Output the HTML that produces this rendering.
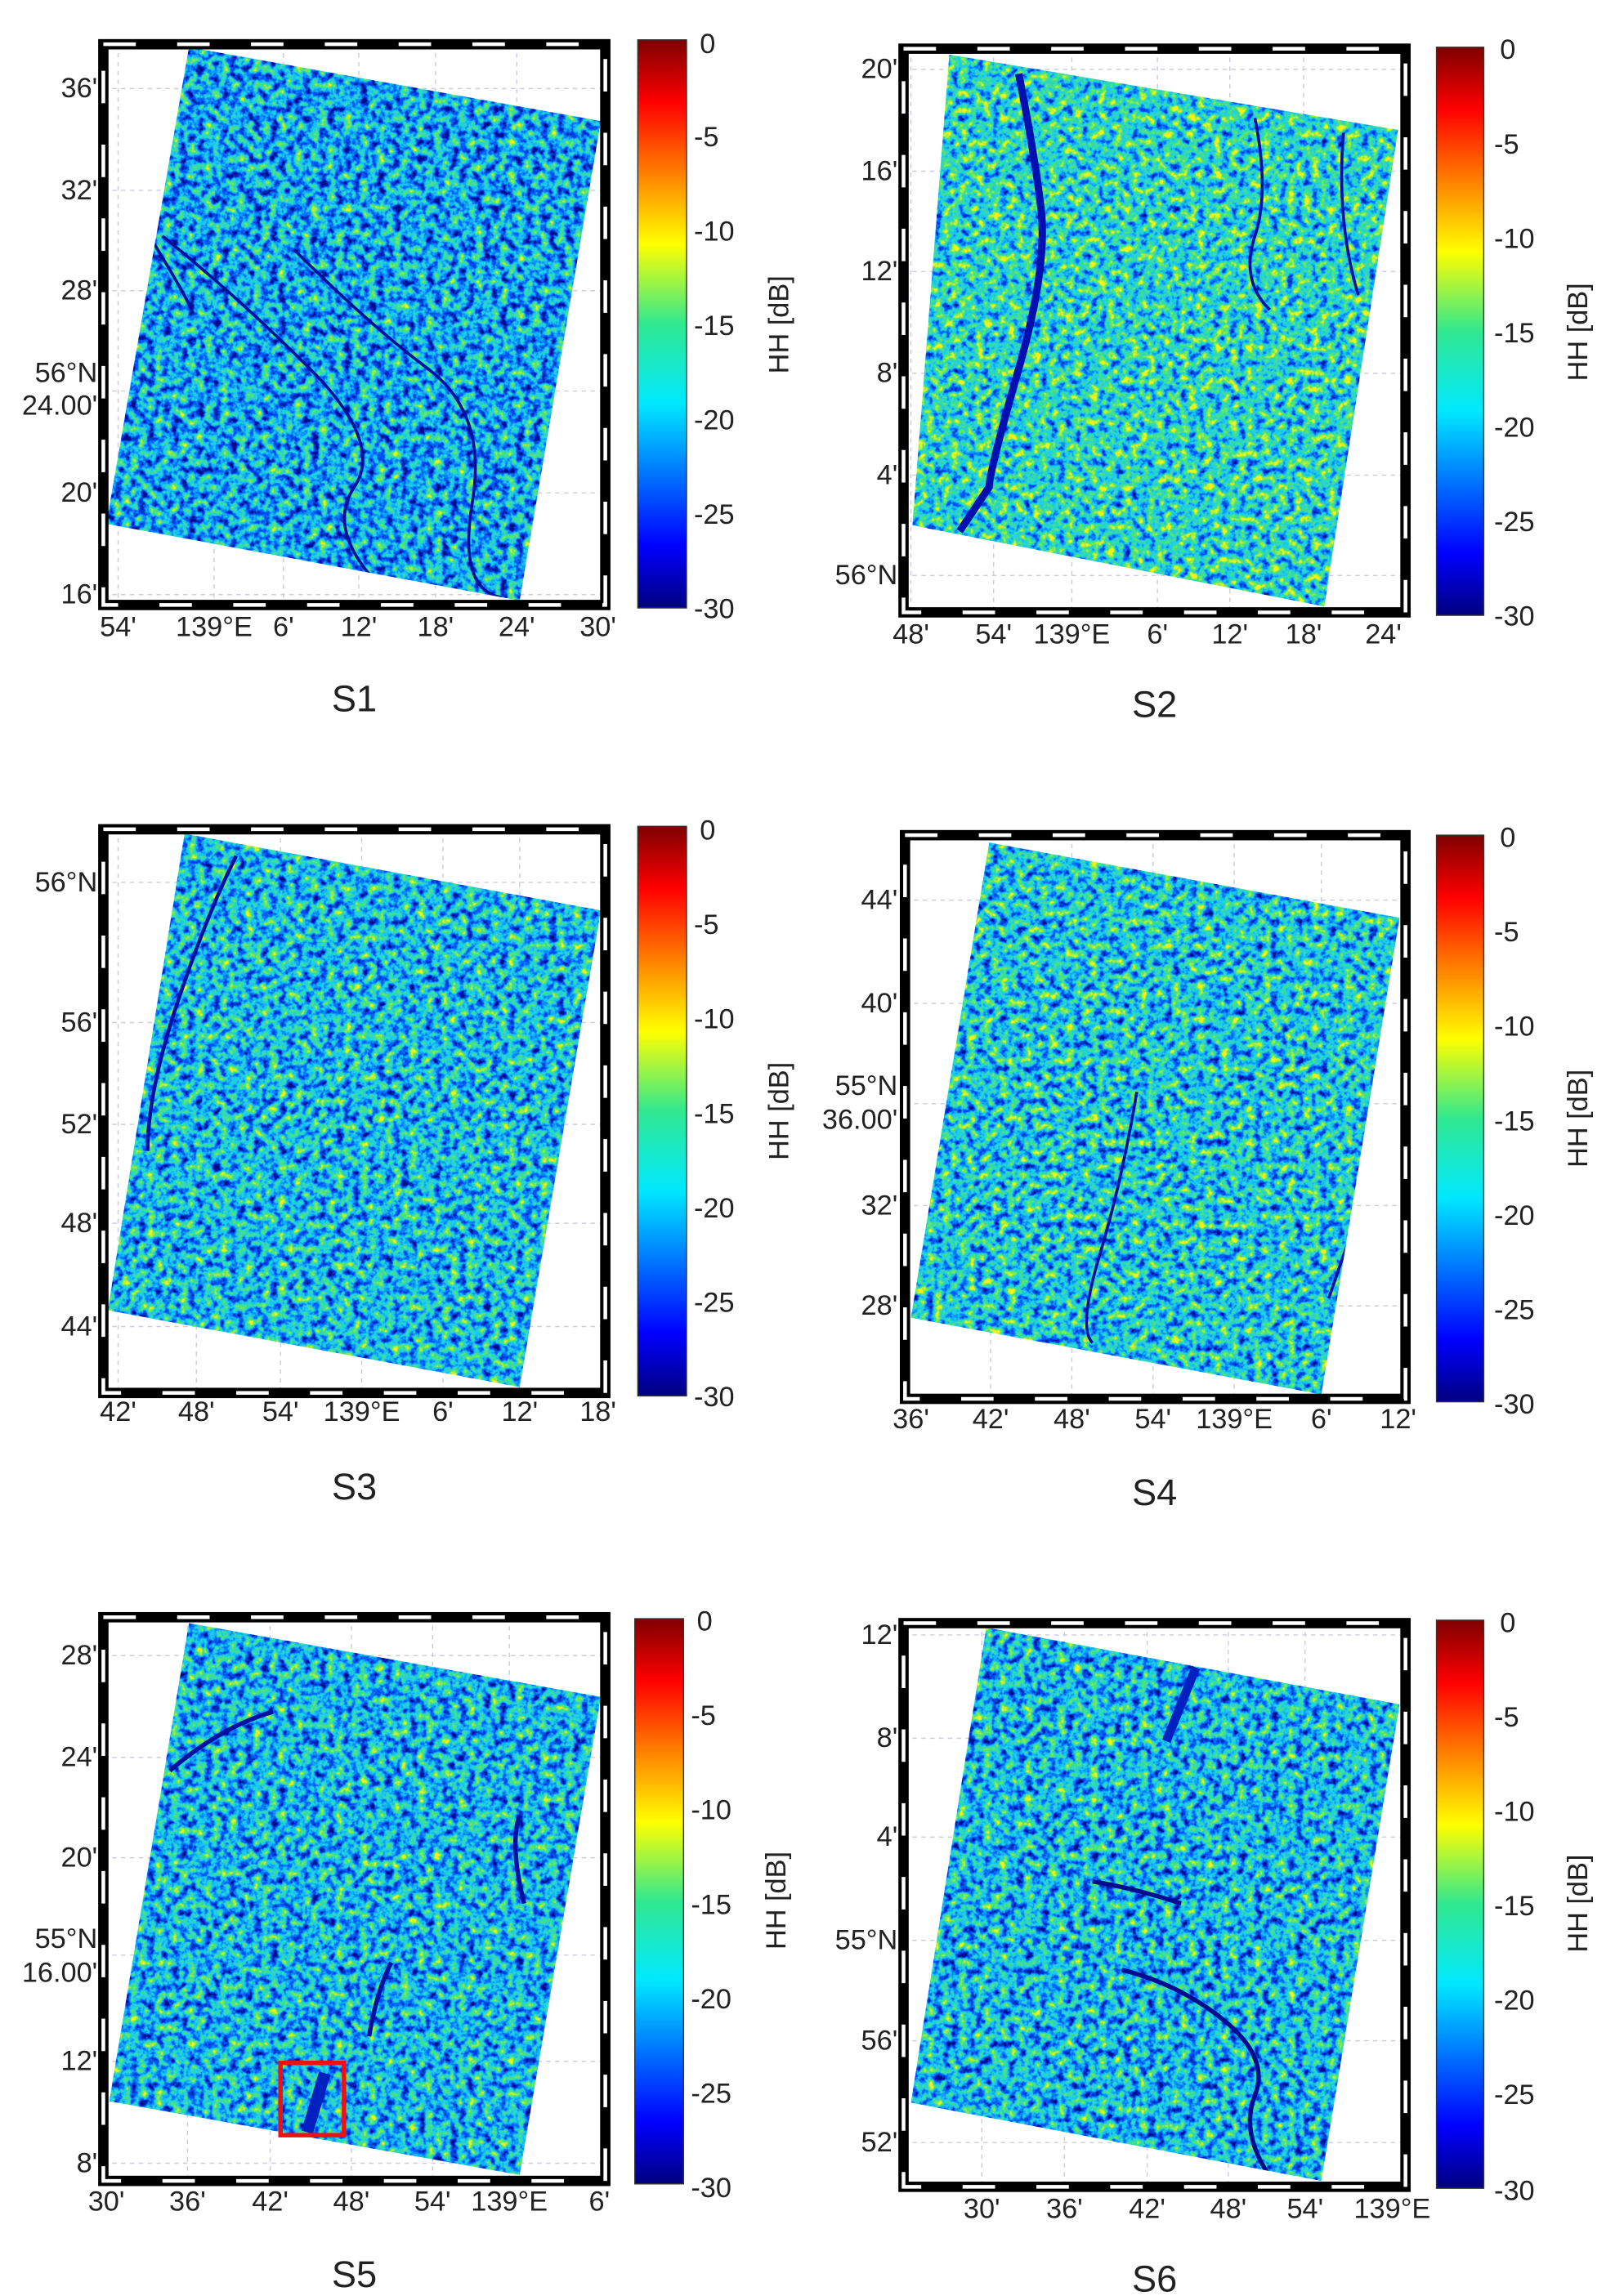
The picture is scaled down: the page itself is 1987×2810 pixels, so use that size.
<!DOCTYPE html>
<html><head><meta charset="utf-8"><style>
html,body{margin:0;padding:0;background:#fff;}
svg{display:block;}
text{font-family:"Liberation Sans",sans-serif;fill:#222;}
.t{font-size:19px;}
.ti{font-size:25px;}
</style></head><body>
<svg width="1987" height="2810" viewBox="0 0 1100 1556" preserveAspectRatio="none" xmlns="http://www.w3.org/2000/svg">
<defs>
<linearGradient id="jet" x1="0" y1="1" x2="0" y2="0">
<stop offset="0" stop-color="#00007f"/><stop offset="0.11" stop-color="#0000ff"/>
<stop offset="0.36" stop-color="#00e8ff"/><stop offset="0.5" stop-color="#30e890"/>
<stop offset="0.64" stop-color="#ffff00"/><stop offset="0.89" stop-color="#ff0000"/>
<stop offset="1" stop-color="#7f0000"/></linearGradient>
<filter id="f1" x="0" y="0" width="100%" height="100%" color-interpolation-filters="sRGB"><feTurbulence type="fractalNoise" baseFrequency="0.18" numOctaves="3" seed="3"/><feColorMatrix type="matrix" values="1.6 0 0 0 -0.38 1.6 0 0 0 -0.38 1.6 0 0 0 -0.38 0 0 0 0 1"/><feComponentTransfer><feFuncR type="table" tableValues="0 0 0.1 0.3 0.95"/><feFuncG type="table" tableValues="0.05 0.35 0.8 0.9 0.95"/><feFuncB type="table" tableValues="0.55 1 0.95 0.45 0.1"/><feFuncA type="table" tableValues="1 1"/></feComponentTransfer></filter>
<filter id="f2" x="0" y="0" width="100%" height="100%" color-interpolation-filters="sRGB"><feTurbulence type="fractalNoise" baseFrequency="0.18" numOctaves="3" seed="5"/><feColorMatrix type="matrix" values="1.6 0 0 0 -0.22 1.6 0 0 0 -0.22 1.6 0 0 0 -0.22 0 0 0 0 1"/><feComponentTransfer><feFuncR type="table" tableValues="0 0 0.1 0.3 0.95"/><feFuncG type="table" tableValues="0.05 0.35 0.8 0.9 0.95"/><feFuncB type="table" tableValues="0.55 1 0.95 0.45 0.1"/><feFuncA type="table" tableValues="1 1"/></feComponentTransfer></filter>
<filter id="f3" x="0" y="0" width="100%" height="100%" color-interpolation-filters="sRGB"><feTurbulence type="fractalNoise" baseFrequency="0.18" numOctaves="3" seed="8"/><feColorMatrix type="matrix" values="1.6 0 0 0 -0.32 1.6 0 0 0 -0.32 1.6 0 0 0 -0.32 0 0 0 0 1"/><feComponentTransfer><feFuncR type="table" tableValues="0 0 0.1 0.3 0.95"/><feFuncG type="table" tableValues="0.05 0.35 0.8 0.9 0.95"/><feFuncB type="table" tableValues="0.55 1 0.95 0.45 0.1"/><feFuncA type="table" tableValues="1 1"/></feComponentTransfer></filter>
<filter id="f4" x="0" y="0" width="100%" height="100%" color-interpolation-filters="sRGB"><feTurbulence type="fractalNoise" baseFrequency="0.18" numOctaves="3" seed="11"/><feColorMatrix type="matrix" values="1.6 0 0 0 -0.28 1.6 0 0 0 -0.28 1.6 0 0 0 -0.28 0 0 0 0 1"/><feComponentTransfer><feFuncR type="table" tableValues="0 0 0.1 0.3 0.95"/><feFuncG type="table" tableValues="0.05 0.35 0.8 0.9 0.95"/><feFuncB type="table" tableValues="0.55 1 0.95 0.45 0.1"/><feFuncA type="table" tableValues="1 1"/></feComponentTransfer></filter>
<filter id="f5" x="0" y="0" width="100%" height="100%" color-interpolation-filters="sRGB"><feTurbulence type="fractalNoise" baseFrequency="0.18" numOctaves="3" seed="13"/><feColorMatrix type="matrix" values="1.6 0 0 0 -0.34 1.6 0 0 0 -0.34 1.6 0 0 0 -0.34 0 0 0 0 1"/><feComponentTransfer><feFuncR type="table" tableValues="0 0 0.1 0.3 0.95"/><feFuncG type="table" tableValues="0.05 0.35 0.8 0.9 0.95"/><feFuncB type="table" tableValues="0.55 1 0.95 0.45 0.1"/><feFuncA type="table" tableValues="1 1"/></feComponentTransfer></filter>
<filter id="f6" x="0" y="0" width="100%" height="100%" color-interpolation-filters="sRGB"><feTurbulence type="fractalNoise" baseFrequency="0.18" numOctaves="3" seed="17"/><feColorMatrix type="matrix" values="1.6 0 0 0 -0.33 1.6 0 0 0 -0.33 1.6 0 0 0 -0.33 0 0 0 0 1"/><feComponentTransfer><feFuncR type="table" tableValues="0 0 0.1 0.3 0.95"/><feFuncG type="table" tableValues="0.05 0.35 0.8 0.9 0.95"/><feFuncB type="table" tableValues="0.55 1 0.95 0.45 0.1"/><feFuncA type="table" tableValues="1 1"/></feComponentTransfer></filter>
<clipPath id="c1"><polygon points="128,32 407,82 352,407 72,355"/></clipPath>
<clipPath id="c2"><polygon points="643,37 947,88 897,411 618,356"/></clipPath>
<clipPath id="c3"><polygon points="125,565 407,617 352,940 73,888"/></clipPath>
<clipPath id="c4"><polygon points="670,571 948,622 895,945 617,893"/></clipPath>
<clipPath id="c5"><polygon points="128,1100 407,1150 352,1474 74,1424"/></clipPath>
<clipPath id="c6"><polygon points="668,1103 948,1155 895,1478 617,1425"/></clipPath>
</defs>

<g stroke="#ccd" stroke-width="0.8" stroke-dasharray="3 3" fill="none">
<path d="M70 60H410M70 129H410M70 197H410M70 265H410M70 334H410M70 403H410M80 30V410M145 30V410M192 30V410M243 30V410M295 30V410M350 30V410"/>
<path d="M612 47H952M612 116H952M612 184H952M612 253H952M612 322H952M612 390H952M617 33V415M673 33V415M726 33V415M784 33V415M833 33V415M883 33V415"/>
<path d="M70 598H410M70 693H410M70 762H410M70 829H410M70 899H410M80 562V944M133 562V944M190 562V944M245 562V944M300 562V944M352 562V944"/>
<path d="M613 610H952M613 680H952M613 748H952M613 817H952M613 885H952M671 566V948M726 566V948M781 566V948M836 566V948M895 566V948"/>
<path d="M70 1122H410M70 1191H410M70 1259H410M70 1325H410M70 1397H410M70 1466H410M127 1096V1478M183 1096V1478M238 1096V1478M293 1096V1478M345 1096V1478"/>
<path d="M612 1108H952M612 1178H952M612 1245H952M612 1315H952M612 1383H952M612 1452H952M665 1100V1482M721 1100V1482M777 1100V1482M832 1100V1482M884 1100V1482"/>
</g>

<g clip-path="url(#c1)"><rect x="60" y="25" width="360" height="390" filter="url(#f1)"/>
<path d="M110 160 Q160 200 210 250 T240 330 T260 400 M200 170 Q250 220 290 250 T320 340 T340 405 M95 150 Q120 190 130 210" stroke="#00109a" stroke-width="2" fill="none"/></g>
<g clip-path="url(#c2)"><rect x="610" y="30" width="345" height="390" filter="url(#f2)"/>
<path d="M690 50 Q700 100 705 140 T690 250 T670 330 L650 360" stroke="#0010b0" stroke-width="5" fill="none"/>
<path d="M850 80 Q860 130 850 160 T860 210 M910 90 Q905 150 920 200" stroke="#0010a0" stroke-width="2" fill="none"/></g>
<g clip-path="url(#c3)"><rect x="65" y="560" width="350" height="390" filter="url(#f3)"/>
<path d="M160 580 Q140 620 120 680 T100 780" stroke="#0010a0" stroke-width="2.5" fill="none"/></g>
<g clip-path="url(#c4)"><rect x="612" y="565" width="345" height="390" filter="url(#f4)"/>
<path d="M770 740 Q760 800 745 850 T740 910 M945 760 Q920 820 900 880" stroke="#0010a0" stroke-width="2" fill="none"/></g>
<g clip-path="url(#c5)"><rect x="65" y="1095" width="350" height="390" filter="url(#f5)"/>
<path d="M115 1200 Q150 1170 185 1160 M250 1380 Q255 1350 265 1330 M355 1290 Q345 1250 352 1230" stroke="#0010a0" stroke-width="3" fill="none"/>
<path d="M208 1445 L220 1405" stroke="#0020c0" stroke-width="8"/></g>
<g clip-path="url(#c6)"><rect x="612" y="1098" width="345" height="390" filter="url(#f6)"/>
<path d="M760 1335 Q800 1345 830 1370 T850 1420 T860 1475 M740 1275 Q770 1280 800 1290" stroke="#000c90" stroke-width="3" fill="none"/>
<path d="M810 1130 L790 1180" stroke="#0020c0" stroke-width="6"/></g>

<rect x="190" y="1398" width="43" height="49" fill="none" stroke="#ee1111" stroke-width="3"/>

<g fill="none">
<rect x="70" y="30" width="340" height="380" stroke="#000" stroke-width="7"/><rect x="70" y="30" width="340" height="380" stroke="#fff" stroke-width="2.5" stroke-dasharray="22 28"/>
<rect x="612" y="33" width="340" height="382" stroke="#000" stroke-width="7"/><rect x="612" y="33" width="340" height="382" stroke="#fff" stroke-width="2.5" stroke-dasharray="22 28"/>
<rect x="70" y="562" width="340" height="382" stroke="#000" stroke-width="7"/><rect x="70" y="562" width="340" height="382" stroke="#fff" stroke-width="2.5" stroke-dasharray="22 28"/>
<rect x="613" y="566" width="339" height="382" stroke="#000" stroke-width="7"/><rect x="613" y="566" width="339" height="382" stroke="#fff" stroke-width="2.5" stroke-dasharray="22 28"/>
<rect x="70" y="1096" width="340" height="382" stroke="#000" stroke-width="7"/><rect x="70" y="1096" width="340" height="382" stroke="#fff" stroke-width="2.5" stroke-dasharray="22 28"/>
<rect x="612" y="1100" width="340" height="382" stroke="#000" stroke-width="7"/><rect x="612" y="1100" width="340" height="382" stroke="#fff" stroke-width="2.5" stroke-dasharray="22 28"/>
</g>

<g stroke="#333" stroke-width="0.8">
<rect x="432" y="27" width="33" height="385" fill="url(#jet)"/>
<rect x="973" y="32" width="32" height="385" fill="url(#jet)"/>
<rect x="432" y="560" width="33" height="386" fill="url(#jet)"/>
<rect x="973" y="566" width="32" height="384" fill="url(#jet)"/>
<rect x="430" y="1097" width="33" height="383" fill="url(#jet)"/>
<rect x="973" y="1098" width="32" height="385" fill="url(#jet)"/>
</g>

<g class="t">
<text x="474" y="36">0</text><text x="470" y="99">-5</text><text x="470" y="163">-10</text><text x="470" y="227">-15</text><text x="470" y="291">-20</text><text x="470" y="355">-25</text><text x="470" y="419">-30</text>
<text x="1016" y="40">0</text><text x="1012" y="104">-5</text><text x="1012" y="168">-10</text><text x="1012" y="232">-15</text><text x="1012" y="296">-20</text><text x="1012" y="360">-25</text><text x="1012" y="424">-30</text>
<text x="474" y="569">0</text><text x="470" y="633">-5</text><text x="470" y="697">-10</text><text x="470" y="761">-15</text><text x="470" y="825">-20</text><text x="470" y="889">-25</text><text x="470" y="953">-30</text>
<text x="1016" y="574">0</text><text x="1012" y="638">-5</text><text x="1012" y="702">-10</text><text x="1012" y="766">-15</text><text x="1012" y="830">-20</text><text x="1012" y="894">-25</text><text x="1012" y="958">-30</text>
<text x="472" y="1105">0</text><text x="468" y="1169">-5</text><text x="468" y="1233">-10</text><text x="468" y="1297">-15</text><text x="468" y="1361">-20</text><text x="468" y="1425">-25</text><text x="468" y="1489">-30</text>
<text x="1016" y="1106">0</text><text x="1012" y="1170">-5</text><text x="1012" y="1234">-10</text><text x="1012" y="1298">-15</text><text x="1012" y="1362">-20</text><text x="1012" y="1426">-25</text><text x="1012" y="1491">-30</text>
</g>
<g class="t" text-anchor="middle">
<text transform="translate(534,220) rotate(-90)">HH [dB]</text>
<text transform="translate(1075,225) rotate(-90)">HH [dB]</text>
<text transform="translate(534,753) rotate(-90)">HH [dB]</text>
<text transform="translate(1075,758) rotate(-90)">HH [dB]</text>
<text transform="translate(532,1288) rotate(-90)">HH [dB]</text>
<text transform="translate(1075,1290) rotate(-90)">HH [dB]</text>
</g>

<g class="t" text-anchor="end">
<text x="66" y="66">36'</text><text x="66" y="135">32'</text><text x="66" y="203">28'</text><text x="66" y="259">56°N</text><text x="66" y="281">24.00'</text><text x="66" y="340">20'</text><text x="66" y="409">16'</text>
<text x="608" y="53">20'</text><text x="608" y="122">16'</text><text x="608" y="190">12'</text><text x="608" y="259">8'</text><text x="608" y="328">4'</text><text x="608" y="396">56°N</text>
<text x="66" y="604">56°N</text><text x="66" y="699">56'</text><text x="66" y="768">52'</text><text x="66" y="835">48'</text><text x="66" y="905">44'</text>
<text x="608" y="616">44'</text><text x="608" y="686">40'</text><text x="608" y="742">55°N</text><text x="608" y="765">36.00'</text><text x="608" y="823">32'</text><text x="608" y="891">28'</text>
<text x="66" y="1128">28'</text><text x="66" y="1197">24'</text><text x="66" y="1265">20'</text><text x="66" y="1320">55°N</text><text x="66" y="1343">16.00'</text><text x="66" y="1403">12'</text><text x="66" y="1472">8'</text>
<text x="608" y="1114">12'</text><text x="608" y="1184">8'</text><text x="608" y="1251">4'</text><text x="608" y="1321">55°N</text><text x="608" y="1389">56'</text><text x="608" y="1458">52'</text>
</g>
<g class="t" text-anchor="middle">
<text x="80" y="431">54'</text><text x="145" y="431">139°E</text><text x="192" y="431">6'</text><text x="243" y="431">12'</text><text x="295" y="431">18'</text><text x="350" y="431">24'</text><text x="405" y="431">30'</text>
<text x="617" y="436">48'</text><text x="673" y="436">54'</text><text x="726" y="436">139°E</text><text x="784" y="436">6'</text><text x="833" y="436">12'</text><text x="883" y="436">18'</text><text x="937" y="436">24'</text>
<text x="80" y="963">42'</text><text x="133" y="963">48'</text><text x="190" y="963">54'</text><text x="245" y="963">139°E</text><text x="300" y="963">6'</text><text x="352" y="963">12'</text><text x="405" y="963">18'</text>
<text x="617" y="968">36'</text><text x="671" y="968">42'</text><text x="726" y="968">48'</text><text x="781" y="968">54'</text><text x="836" y="968">139°E</text><text x="895" y="968">6'</text><text x="947" y="968">12'</text>
<text x="72" y="1498">30'</text><text x="127" y="1498">36'</text><text x="183" y="1498">42'</text><text x="238" y="1498">48'</text><text x="293" y="1498">54'</text><text x="345" y="1498">139°E</text><text x="406" y="1498">6'</text>
<text x="665" y="1503">30'</text><text x="721" y="1503">36'</text><text x="777" y="1503">42'</text><text x="832" y="1503">48'</text><text x="884" y="1503">54'</text><text x="943" y="1503">139°E</text>
</g>
<g class="ti" text-anchor="middle">
<text x="240" y="482">S1</text><text x="782" y="486">S2</text>
<text x="240" y="1016">S3</text><text x="782" y="1020">S4</text>
<text x="240" y="1550">S5</text><text x="782" y="1553">S6</text>
</g>
</svg>
</body></html>
